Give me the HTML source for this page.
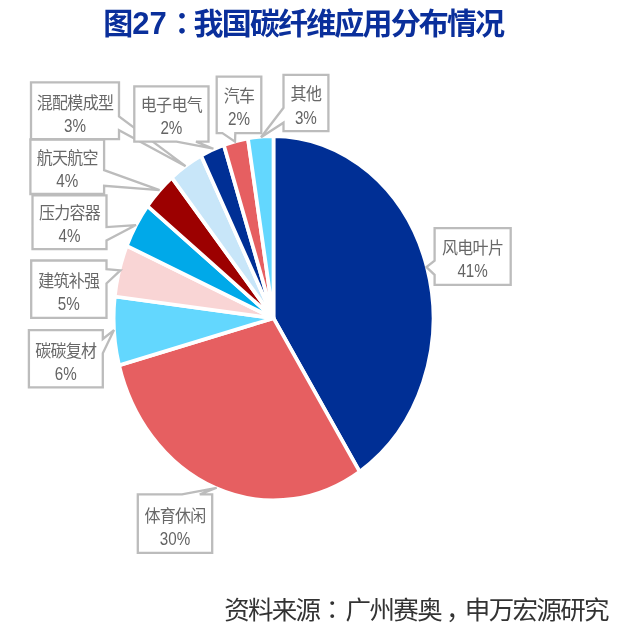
<!DOCTYPE html>
<html>
<head>
<meta charset="utf-8">
<title>图27：我国碳纤维应用分布情况</title>
<style>
html,body{margin:0;padding:0;background:#fff;}
body{width:618px;height:630px;overflow:hidden;}
svg{display:block;}
.ttl{font-family:"Liberation Sans","Noto Sans CJK SC",sans-serif;font-weight:700;font-size:30px;letter-spacing:-1.85px;fill:#0a2f9b;}
.cn{font-family:"Noto Sans CJK TC","Noto Sans CJK JP",sans-serif;}
.src{font-family:"Liberation Sans","Noto Sans CJK SC",sans-serif;font-weight:400;font-size:25.5px;letter-spacing:-1.75px;fill:#333;}
.lb{font-family:"Liberation Sans","Noto Sans CJK SC",sans-serif;font-weight:400;font-size:16px;letter-spacing:-0.7px;fill:#686868;text-anchor:middle;}
.nm{font-family:"Liberation Sans","Noto Sans CJK SC",sans-serif;font-weight:400;font-size:15.2px;fill:#646464;text-anchor:middle;}
.bx{fill:#fff;stroke:#bcbcbc;stroke-width:2.3;stroke-linejoin:miter;}
.sl{stroke:#fff;stroke-width:3.7;stroke-linejoin:miter;}
</style>
</head>
<body>
<svg width="618" height="630" viewBox="0 0 618 630">
<rect width="618" height="630" fill="#fff"/>
<text class="ttl" y="34"><tspan x="103.2">图</tspan><tspan x="132.3" font-size="31" letter-spacing="0">27</tspan><tspan x="166.9" class="cn">：</tspan><tspan x="193.6">我国碳纤维应用分布情况</tspan></text>
<g>
<path class="sl" fill="#002f95" d="M273.50 318.20L273.50 136.05A159.85 182.15 0 0 1 359.62 471.65Z"/>
<path class="sl" fill="#e65f61" d="M273.50 318.20L359.62 471.65A159.85 182.15 0 0 1 119.10 365.34Z"/>
<path class="sl" fill="#63d7fe" d="M273.50 318.20L119.10 365.34A159.85 182.15 0 0 1 114.79 296.47Z"/>
<path class="sl" fill="#f9d5d5" d="M273.50 318.20L114.79 296.47A159.85 182.15 0 0 1 126.80 245.86Z"/>
<path class="sl" fill="#00a9e9" d="M273.50 318.20L126.80 245.86A159.85 182.15 0 0 1 147.54 206.06Z"/>
<path class="sl" fill="#9c0000" d="M273.50 318.20L147.54 206.06A159.85 182.15 0 0 1 171.82 177.65Z"/>
<path class="sl" fill="#c8e6f9" d="M273.50 318.20L171.82 177.65A159.85 182.15 0 0 1 201.18 155.76Z"/>
<path class="sl" fill="#002f95" d="M273.50 318.20L201.18 155.76A159.85 182.15 0 0 1 223.84 145.06Z"/>
<path class="sl" fill="#e65f61" d="M273.50 318.20L223.84 145.06A159.85 182.15 0 0 1 247.94 138.39Z"/>
<path class="sl" fill="#63d7fe" d="M273.50 318.20L247.94 138.39A159.85 182.15 0 0 1 273.50 136.05Z"/>
</g>
<polygon class="bx" points="434.6,228.2 510.7,228.2 510.7,284.9 434.6,284.9 434.6,274.8 426.4,267.0 434.6,260.6"/>
<text class="lb" transform="translate(472.6 253.5) scale(1 1.050)">风电叶片</text>
<text class="nm" transform="translate(472.6 276.6) scale(1 1.250)">41%</text>
<polygon class="bx" points="137.8,494.4 182.0,494.4 216.7,487.8 199.8,494.4 212.2,494.4 212.2,552.8 137.8,552.8"/>
<text class="lb" transform="translate(175.0 521.8) scale(1 1.050)">体育休闲</text>
<text class="nm" transform="translate(175.0 544.9) scale(1 1.250)">30%</text>
<polygon class="bx" points="28.9,330.1 102.8,330.1 102.8,339.0 114.0,330.1 102.8,353.3 102.8,387.4 28.9,387.4"/>
<text class="lb" transform="translate(65.8 356.5) scale(1 1.050)">碳碳复材</text>
<text class="nm" transform="translate(65.8 379.6) scale(1 1.250)">6%</text>
<polygon class="bx" points="31.2,260.5 106.5,260.5 106.5,269.1 120.4,270.4 106.5,283.5 106.5,317.8 31.2,317.8"/>
<text class="lb" transform="translate(68.8 287.0) scale(1 1.050)">建筑补强</text>
<text class="nm" transform="translate(68.8 310.1) scale(1 1.250)">5%</text>
<polygon class="bx" points="32.5,195.3 106.5,195.3 106.5,227.1 136.0,225.1 106.5,240.4 106.5,249.1 32.5,249.1"/>
<text class="lb" transform="translate(69.5 218.5) scale(1 1.050)">压力容器</text>
<text class="nm" transform="translate(69.5 241.6) scale(1 1.250)">4%</text>
<polygon class="bx" points="30.4,139.5 104.1,139.5 104.1,170.2 159.6,190.1 104.1,185.8 104.1,194.0 30.4,194.0"/>
<text class="lb" transform="translate(67.2 163.8) scale(1 1.050)">航天航空</text>
<text class="nm" transform="translate(67.2 186.9) scale(1 1.250)">4%</text>
<polygon class="bx" points="31.0,82.3 119.0,82.3 119.0,116.4 185.6,166.2 119.0,130.2 119.0,139.2 31.0,139.2"/>
<text class="lb" transform="translate(75.0 108.9) scale(1 1.050)">混配模成型</text>
<text class="nm" transform="translate(75.0 132.0) scale(1 1.250)">3%</text>
<polygon class="bx" points="134.3,86.3 208.5,86.3 208.5,141.6 196.0,141.6 213.4,148.7 176.5,141.6 134.3,141.6"/>
<text class="lb" transform="translate(171.4 111.3) scale(1 1.050)">电子电气</text>
<text class="nm" transform="translate(171.4 134.4) scale(1 1.250)">2%</text>
<polygon class="bx" points="216.7,76.7 261.3,76.7 261.3,133.1 235.3,133.1 235.0,141.6 222.4,133.1 216.7,133.1"/>
<text class="lb" transform="translate(239.0 102.0) scale(1 1.050)">汽车</text>
<text class="nm" transform="translate(239.0 125.1) scale(1 1.250)">2%</text>
<polygon class="bx" points="283.5,74.9 328.4,74.9 328.4,131.1 283.5,131.1 283.5,122.7 261.0,137.2 283.5,107.8"/>
<text class="lb" transform="translate(305.9 100.4) scale(1 1.050)">其他</text>
<text class="nm" transform="translate(305.9 123.5) scale(1 1.250)">3%</text>
<text class="src" y="618.5"><tspan x="224.3">资料来源</tspan><tspan class="cn" x="319.6">：</tspan><tspan x="345.6" letter-spacing="-1.65">广州赛奥<tspan dx="5">，</tspan><tspan dx="-5">申万宏源研究</tspan></tspan></text>
</svg>
</body>
</html>
